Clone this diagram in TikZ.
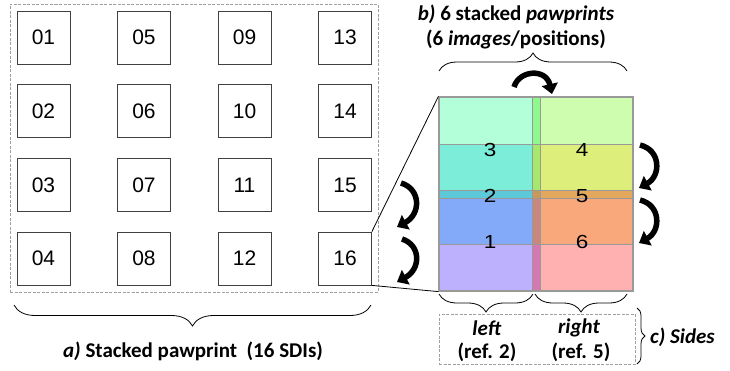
\documentclass[tikz,border=0pt]{standalone}
\usepackage{fontspec}
\setmainfont{Liberation Sans}
\newfontfamily\calfont{Carlito}
\usetikzlibrary{arrows.meta,decorations.pathreplacing}
\definecolor{cl1}{HTML}{B3FFD9}\definecolor{cl2}{HTML}{7BEDD8}\definecolor{cl3}{HTML}{5CC8D8}\definecolor{cl4}{HTML}{82AAF8}\definecolor{cl5}{HTML}{BDB0FC}
\definecolor{cs1}{HTML}{8EF88E}\definecolor{cs2}{HTML}{A6E86C}\definecolor{cs3}{HTML}{C89A5A}\definecolor{cs4}{HTML}{C88880}\definecolor{cs5}{HTML}{D478B2}
\definecolor{cr1}{HTML}{CFFDB0}\definecolor{cr2}{HTML}{DEEE7A}\definecolor{cr3}{HTML}{E4A85C}\definecolor{cr4}{HTML}{F9A87C}\definecolor{cr5}{HTML}{FFB0B0}
\newcommand{\wdig}[1]{\scalebox{1.25}[1.05]{#1}}
\begin{document}
\begin{tikzpicture}[x=1pt,y=-1pt,
  sq/.style={draw=black!75, line width=0.8pt, minimum width=53pt, minimum height=53pt, inner sep=0pt, font=\fontsize{21}{21}\selectfont},
  num/.style={inner sep=0pt, font=\fontsize{18}{18}\selectfont},
  lab/.style={inner sep=0pt, font=\calfont\bfseries\fontsize{21}{24}\selectfont},
  cell/.style={draw=black!40, line width=0.5pt},
  brc/.style={decorate, decoration={brace, amplitude=#1}, line width=0.8pt},
  dbox/.style={draw=gray!75, dash pattern=on 3pt off 1.5pt, line width=0.8pt, inner sep=0pt},
  bigarrow/.style={line width=5.5pt, -{Triangle[length=10pt,width=16pt]}},
  conn/.style={line width=0.8pt, black}]
\useasboundingbox (0,0) rectangle (730,370);
% left panel
\node[dbox, minimum width=368pt, minimum height=288pt] (panel) at (194,148) {};
\foreach \c/\x in {0/43.5,1/144,2/244.5,3/345}{
  \foreach \r/\y in {1/37.5,2/111,3/185,4/258.5}{
    \pgfmathtruncatemacro{\n}{\c*4+\r}
    \node[sq] (b\n) at (\x,\y) {\ifnum\n<10 0\fi\n};
  }
}
% coloured grid
\foreach \ya/\yb/\i in {97/144/1,144/190/2,190/198/3,198/244/4,244/291/5}{
  \filldraw[cell, fill=cl\i] (439,\ya) rectangle (532,\yb);
  \filldraw[cell, fill=cs\i] (532,\ya) rectangle (540,\yb);
  \filldraw[cell, fill=cr\i] (540,\ya) rectangle (633,\yb);
}
\node[draw=gray!80, line width=1.2pt, minimum width=194pt, minimum height=194pt, inner sep=0pt] (grid) at (536,194) {};
\node[num] (n3) at (490,150) {\wdig{3}};
\node[num] (n2) at (490,196) {\wdig{2}};
\node[num] (n1) at (490,242) {\wdig{1}};
\node[num] (n4) at (582,150) {\wdig{4}};
\node[num] (n5) at (582,196) {\wdig{5}};
\node[num] (n6) at (582,242) {\wdig{6}};
% connectors
\draw[conn] (b16.north east) -- (grid.north west);
\draw[conn] (b16.south east) -- (grid.south west);
% labels
\node[lab] (tb1) at (516,14) {\textit{b)} 6 stacked \textit{pawprints}};
\node[lab] (tb2) at (516,39) {(6 \textit{images}/positions)};
\node[lab] (la) at (193,351) {\textit{a)} Stacked pawprint~~(16 SDIs)};
\node[dbox, minimum width=196pt, minimum height=50pt] (sides) at (537,339) {};
\node[lab] (lleft) at (487,328) {\textit{left}};
\node[lab] (lref2) at (487,352) {(ref. 2)};
\node[lab] (lright) at (579,328) {\textit{right}};
\node[lab] (lref5) at (581,352) {(ref. 5)};
\node[lab, anchor=west] (lc) at (650,337) {\textit{c) Sides}};
% braces
\draw[brc=18] (439,71) -- (627,71);
\draw[brc=21] (371,305) -- (14,305);
\draw[brc=18] (533,294) -- (439,294);
\draw[brc=18] (627,294) -- (535,294);
\draw[brc=8] (637,308) -- (637,364);
% curved arrows
\coordinate (ta1) at (514,87);
\coordinate (ta2) at (552,94);
\draw[bigarrow] (ta1) .. controls (519,70) and (546,68) .. (ta2);
\coordinate (ra1) at (640,145);
\coordinate (ra2) at (639,188);
\draw[bigarrow] (ra1) .. controls (661,150) and (661,176) .. (ra2);
\coordinate (rb1) at (640,200);
\coordinate (rb2) at (639,243);
\draw[bigarrow] (rb1) .. controls (661,205) and (661,231) .. (rb2);
\coordinate (la1) at (401,183);
\coordinate (la2) at (397,227);
\draw[bigarrow] (la1) .. controls (421,189) and (421,214) .. (la2);
\coordinate (lb1) at (402,239);
\coordinate (lb2) at (397,282);
\draw[bigarrow] (lb1) .. controls (421,245) and (421,269) .. (lb2);
\end{tikzpicture}
\end{document}
